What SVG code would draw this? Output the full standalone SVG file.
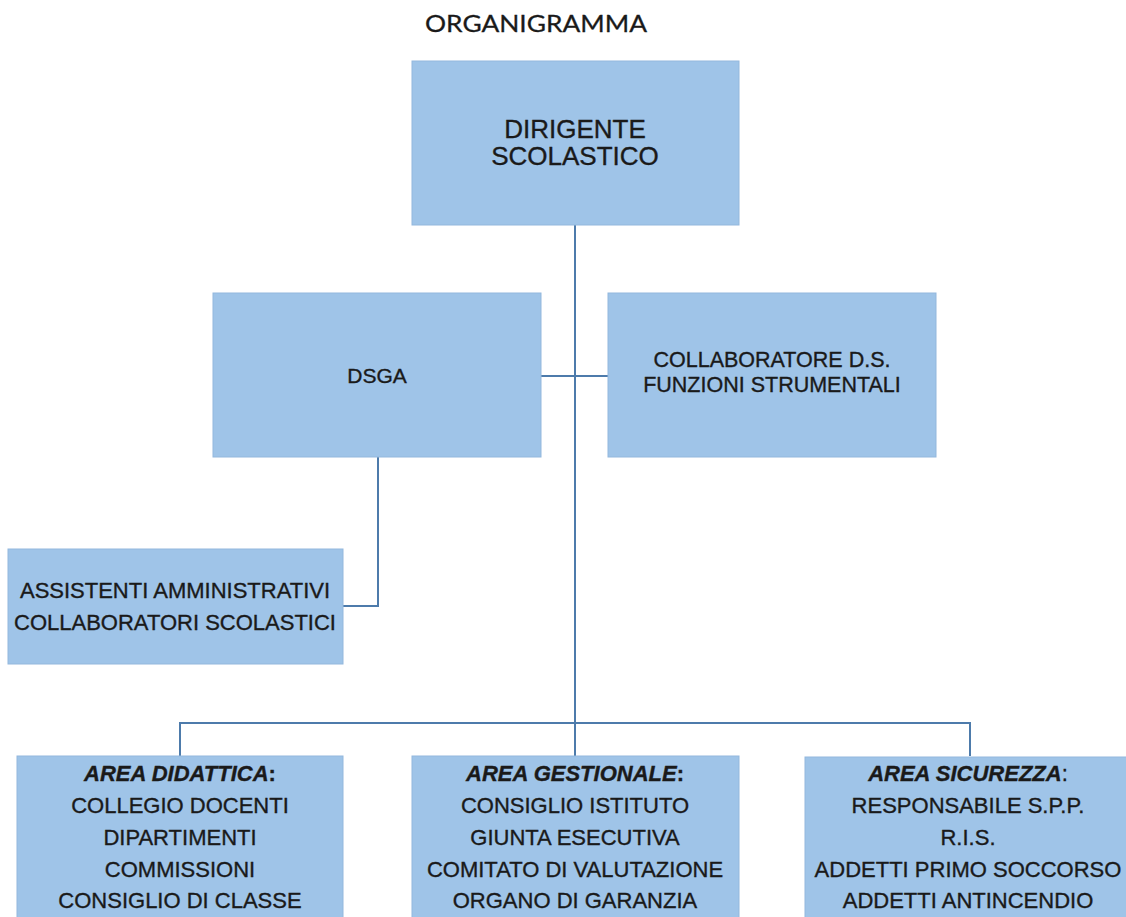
<svg xmlns="http://www.w3.org/2000/svg" width="1126" height="917" viewBox="0 0 1126 917">
<style>
.box{fill:#9fc4e8;stroke:#93b8dd;stroke-width:1}
.t{font-family:"Liberation Sans",Arial,sans-serif;fill:#1a1a1a;stroke:#1a1a1a;stroke-width:0.35;text-anchor:middle}
.conn{stroke:#4d7bab;stroke-width:2;fill:none}
.bi{font-weight:bold;font-style:italic}
</style>
<rect width="1126" height="917" fill="#ffffff"/>
<text x="536" y="32" font-family="Lato,'Open Sans',sans-serif" font-size="24" fill="#1a1a1a" stroke="#1a1a1a" stroke-width="0.3" text-anchor="middle" textLength="222" lengthAdjust="spacingAndGlyphs">ORGANIGRAMMA</text>
<g id="connectors">
<line class="conn" x1="575" y1="225" x2="575" y2="723"/>
<line class="conn" x1="541" y1="376" x2="608" y2="376"/>
<polyline class="conn" points="378,457 378,606 343,606"/>
<polyline class="conn" points="180,756 180,723 970,723 970,756"/>
<line class="conn" x1="575" y1="723" x2="575" y2="756"/>
</g>
<g id="dirigente">
<rect class="box" x="412" y="61" width="327" height="164"/>
<text class="t" x="575" y="138" font-size="26">DIRIGENTE</text>
<text class="t" x="575" y="165" font-size="26">SCOLASTICO</text>
</g>
<g id="dsga">
<rect class="box" x="213" y="293" width="328" height="164"/>
<text class="t" x="377" y="383" font-size="21">DSGA</text>
</g>
<g id="collaboratore">
<rect class="box" x="608" y="293" width="328" height="164"/>
<text class="t" x="772" y="367" font-size="21.5">COLLABORATORE D.S.</text>
<text class="t" x="772" y="392" font-size="21.5">FUNZIONI STRUMENTALI</text>
</g>
<g id="assistenti">
<rect class="box" x="8" y="549" width="335" height="115"/>
<text class="t" x="175" y="598" font-size="22">ASSISTENTI AMMINISTRATIVI</text>
<text class="t" x="175" y="630" font-size="22">COLLABORATORI SCOLASTICI</text>
</g>
<g id="area-didattica">
<rect class="box" x="17" y="756" width="326" height="175"/>
<text class="t" x="180" y="781" font-size="22"><tspan class="bi">AREA DIDATTICA</tspan><tspan font-weight="bold">:</tspan></text>
<text class="t" x="180" y="813" font-size="22">COLLEGIO DOCENTI</text>
<text class="t" x="180" y="845" font-size="22">DIPARTIMENTI</text>
<text class="t" x="180" y="877" font-size="22">COMMISSIONI</text>
<text class="t" x="180" y="908" font-size="22">CONSIGLIO DI CLASSE</text>
</g>
<g id="area-gestionale">
<rect class="box" x="412" y="756" width="327" height="175"/>
<text class="t" x="575" y="781" font-size="22"><tspan class="bi">AREA GESTIONALE</tspan><tspan font-weight="bold">:</tspan></text>
<text class="t" x="575" y="813" font-size="22">CONSIGLIO ISTITUTO</text>
<text class="t" x="575" y="845" font-size="22">GIUNTA ESECUTIVA</text>
<text class="t" x="575" y="877" font-size="22">COMITATO DI VALUTAZIONE</text>
<text class="t" x="575" y="908" font-size="22">ORGANO DI GARANZIA</text>
</g>
<g id="area-sicurezza">
<rect class="box" x="805" y="757" width="327" height="175"/>
<text class="t" x="968" y="781" font-size="22"><tspan class="bi">AREA SICUREZZA</tspan>:</text>
<text class="t" x="968" y="813" font-size="22">RESPONSABILE S.P.P.</text>
<text class="t" x="968" y="845" font-size="22">R.I.S.</text>
<text class="t" x="968" y="877" font-size="22">ADDETTI PRIMO SOCCORSO</text>
<text class="t" x="968" y="908" font-size="22">ADDETTI ANTINCENDIO</text>
</g>
</svg>
